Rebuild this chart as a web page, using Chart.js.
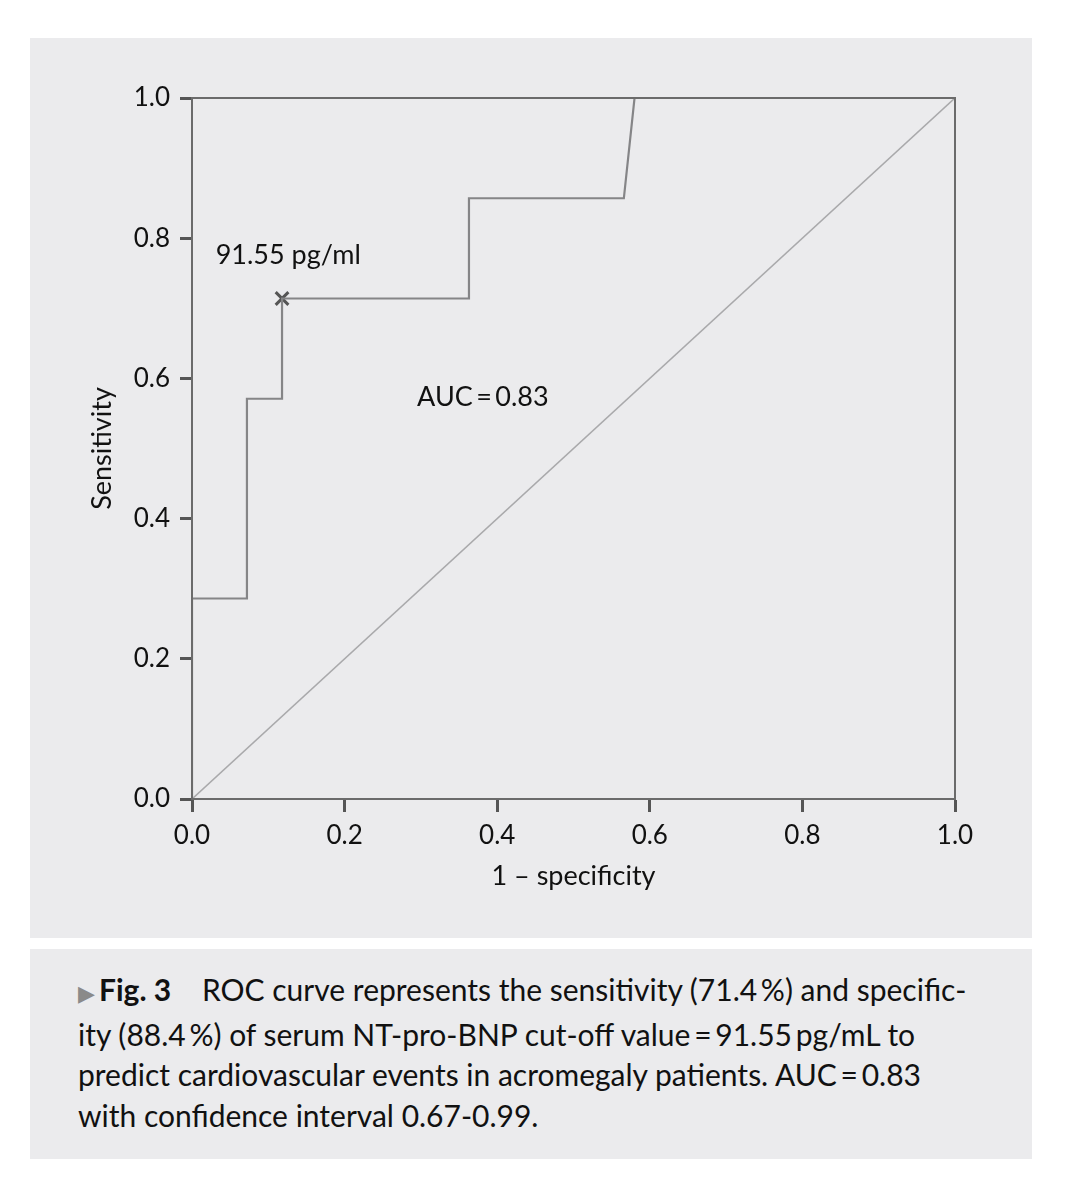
<!DOCTYPE html>
<html>
<head>
<meta charset="utf-8">
<script src="https://cdn.jsdelivr.net/npm/chart.js@4"></script>
<style>
  body { margin: 0; background: #fff; width: 1069px; height: 1187px; position: relative; font-family: Lato, "Open Sans", sans-serif; }
  #panel { position: absolute; left: 30px; top: 38px; width: 1002px; height: 900px; background: #ebebed; }
  #panel canvas { position: absolute; left: 0; top: 0; }
  #caption { position: absolute; left: 30px; top: 949px; width: 1002px; height: 210px; background: #ebebed; box-sizing: border-box; padding: 20px 0 0 48px; font-size: 30px; line-height: 40.5px; color: #111; white-space: nowrap; }
  #caption .tri { color: #8a8a8a; font-size: 22px; margin-right: 4px; }
  #caption b { font-weight: 700; }
</style>
</head>
<body>
<div id="panel"><canvas id="myChart" width="1002" height="900"></canvas></div>
<div id="caption"><span class="tri">&#9654;</span><b>Fig. 3</b>&nbsp;&nbsp;&nbsp; ROC curve represents the sensitivity (71.4&#8201;%) and specific-<br>ity (88.4&#8201;%) of serum NT-pro-BNP cut-off value&#8201;=&#8201;91.55&#8201;pg/mL to<br>predict cardiovascular events in acromegaly patients. AUC&#8201;=&#8201;0.83<br>with confidence interval 0.67-0.99.</div>
<script>
// ROC curve
var fpr = [0, 0, 0.072, 0.072, 0.118, 0.118, 0.363, 0.363, 0.566, 0.580, 1.0];
var tpr = [0, 0.286, 0.286, 0.571, 0.571, 0.714, 0.714, 0.857, 0.857, 1.0, 1.0];
var refX = [0, 1];
var refY = [0, 1];
var cutX = [0.118];
var cutY = [0.714];
var notes = [
  { text: "91.55 pg/ml", x: 0.031, y: 0.775 },
  { text: "AUC\u2009=\u20090.83", x: 0.295, y: 0.573 }
];

function pts(xs, ys) {
  return xs.map(function (v, i) { return { x: v, y: ys[i] }; });
}

var frame = {
  id: "frame",
  afterDatasetsDraw: function (chart) {
    var c = chart.ctx, a = chart.chartArea;
    c.save();
    c.strokeStyle = "#6b6b6b";
    c.lineWidth = 2;
    c.strokeRect(a.left, a.top, a.right - a.left, a.bottom - a.top);
    c.fillStyle = "#111";
    c.font = "27px Lato";
    c.textBaseline = "middle";
    c.textAlign = "left";
    notes.forEach(function (n) {
      c.fillText(n.text, chart.scales.x.getPixelForValue(n.x), chart.scales.y.getPixelForValue(n.y));
    });
    c.restore();
  }
};

var tickFont = { family: "Lato", size: 26 };
var titleFont = { family: "Lato", size: 27 };

var ctx = document.getElementById("myChart");
var myChart = new Chart(ctx, {
  type: "scatter",
  data: {
    datasets: [
      {
        label: "reference",
        data: pts(refX, refY),
        showLine: true,
        borderColor: "#a9a9ab",
        borderWidth: 1.6,
        pointRadius: 0
      },
      {
        label: "ROC",
        data: pts(fpr, tpr),
        showLine: true,
        borderColor: "#858587",
        borderWidth: 2.2,
        pointRadius: 0
      },
      {
        label: "cut-off",
        data: pts(cutX, cutY),
        pointStyle: "crossRot",
        pointRadius: 9,
        borderColor: "#555",
        borderWidth: 3
      }
    ]
  },
  options: {
    responsive: false,
    animation: false,
    layout: { padding: { left: 0, top: 60, right: 77, bottom: 40 } },
    plugins: { legend: { display: false }, tooltip: { enabled: false } },
    scales: {
      x: {
        type: "linear",
        min: 0,
        max: 1,
        afterFit: function (s) { s.height = 99; },
        border: { display: true, color: "#6b6b6b", width: 2 },
        grid: { drawOnChartArea: false, tickLength: 13, tickColor: "#555", tickWidth: 3 },
        ticks: {
          stepSize: 0.2,
          padding: 8,
          color: "#111",
          font: tickFont,
          callback: function (v) { return v.toFixed(1); }
        },
        title: { display: true, text: "1 \u2013 specificity", color: "#111", font: titleFont, padding: { top: 0, bottom: 6 } }
      },
      y: {
        type: "linear",
        min: 0,
        max: 1,
        afterFit: function (s) { s.width = 162; },
        border: { display: true, color: "#6b6b6b", width: 2 },
        grid: { drawOnChartArea: false, tickLength: 12, tickColor: "#555", tickWidth: 3 },
        ticks: {
          stepSize: 0.2,
          padding: 10,
          color: "#111",
          font: tickFont,
          callback: function (v) { return v.toFixed(1); }
        },
        title: { display: true, text: "Sensitivity", color: "#111", font: titleFont, padding: { top: 56, bottom: 0 } }
      }
    }
  },
  plugins: [frame]
});
</script>
</body>
</html>
